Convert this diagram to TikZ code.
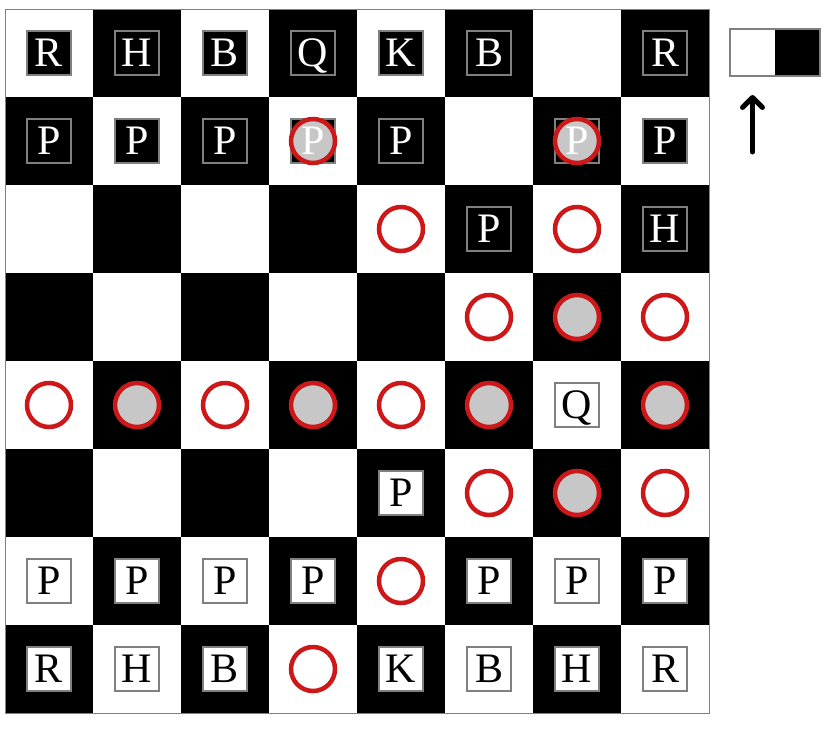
\documentclass[tikz,border=0pt]{standalone}
\usepackage{fontspec}
\setmainfont{Liberation Serif}
\usetikzlibrary{arrows.meta}
\definecolor{mred}{RGB}{204,24,24}
\definecolor{bordergray}{RGB}{128,128,128}
\begin{document}
\begin{tikzpicture}[x=1pt,y=-1pt,
  sq/.style={rectangle,minimum size=88pt,inner sep=0pt,outer sep=0pt},
  piece/.style={rectangle,minimum size=44pt,inner sep=0pt,draw=bordergray,line width=2pt,
    font=\fontsize{42}{48}\selectfont,text height=27.5pt,text depth=0pt},
  bp/.style={piece,fill=black,text=white},
  wp/.style={piece,fill=white,text=black},
  hint/.style={circle,minimum size=44pt,inner sep=0pt,draw=mred,line width=4.5pt,fill=white,fill opacity=0.78},
  legendhalf/.style={rectangle,minimum width=45pt,minimum height=47pt,inner sep=0pt,outer sep=0pt},
  dirarrow/.style={draw=black,line width=5pt,line cap=round,line join=round,
    -{Straight Barb[length=10pt,width=20pt,line width=5pt,round]}}
]
\useasboundingbox (0,0) rectangle (826,731);
% board squares
\foreach \r in {0,...,7}{
  \foreach \c in {0,...,7}{
    \pgfmathtruncatemacro{\sqpar}{mod(\r+\c,2)}
    \ifnum\sqpar=0
      \node[sq,fill=white] (s\r\c) at (49+88*\c,53+88*\r) {};
    \else
      \node[sq,fill=black] (s\r\c) at (49+88*\c,53+88*\r) {};
    \fi
  }
}
\draw[bordergray,line width=1pt] (s00.north west) rectangle (s77.south east);
% black pieces
\foreach \r/\c/\t in {0/0/R,0/1/H,0/2/B,0/3/Q,0/4/K,0/5/B,0/7/R,
  1/0/P,1/1/P,1/2/P,1/3/P,1/4/P,1/6/P,1/7/P,2/5/P,2/7/H}{
  \node[bp] (p\r\c) at (s\r\c) {\t};
}
% white pieces
\foreach \r/\c/\t in {4/6/Q,5/4/P,6/0/P,6/1/P,6/2/P,6/3/P,6/5/P,6/6/P,6/7/P,
  7/0/R,7/1/H,7/2/B,7/4/K,7/5/B,7/6/H,7/7/R}{
  \node[wp] (p\r\c) at (s\r\c) {\t};
}
% move hints
\foreach \r/\c in {1/3,1/6,2/4,2/6,3/5,3/6,3/7,4/0,4/1,4/2,4/3,4/4,4/5,4/7,5/5,5/6,5/7,6/4,7/3}{
  \node[hint] (h\r\c) at (s\r\c) {};
}
% legend
\node[legendhalf,fill=white] (lw) at (752.5,52.5) {};
\node[legendhalf,fill=black] (lb) at (797.5,52.5) {};
\draw[bordergray,line width=1.5pt] (lw.north west) rectangle (lb.south east);
\coordinate (atail) at (752.5,152);
\draw[dirarrow,shorten >=19pt] (atail) -- (lw.south);
\end{tikzpicture}
\end{document}
